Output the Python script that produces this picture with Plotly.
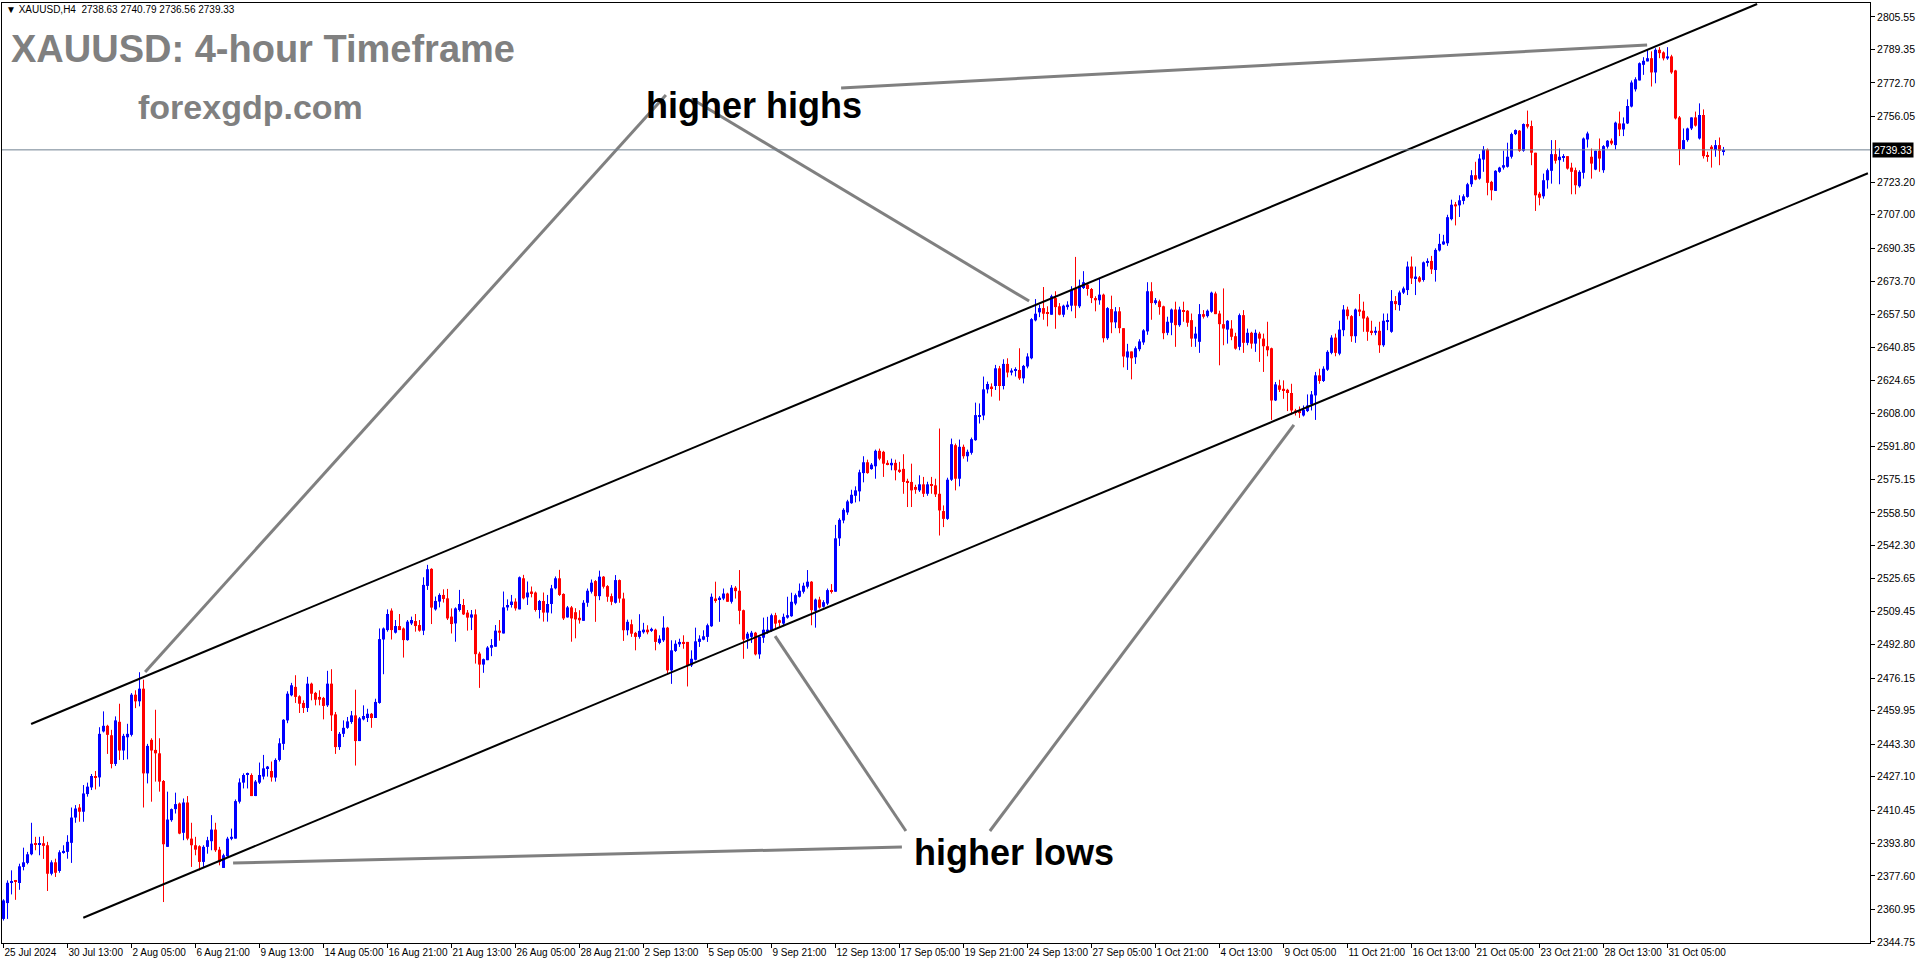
import plotly.graph_objects as go

# XAUUSD H4 bars, index 0 = 25 Jul 2024 21:00
opens = [
    2356.2, 2364.1, 2374.2, 2375.4, 2374.1, 2382.1, 2384.1, 2388.4, 2393.9, 2393.1,
    2393.9, 2392.9, 2378.7, 2384.4, 2380.1, 2389.4, 2389.6, 2394.1, 2406.7, 2411.7,
    2409.6, 2418.4, 2421.7, 2427.1, 2426.7, 2449.6, 2452.4, 2447.7, 2433.4, 2454.4,
    2440.1, 2446.7, 2447.9, 2467.9, 2464.6, 2470.9, 2428.7, 2445.4, 2440.4, 2438.7,
    2424.9, 2392.1, 2405.4, 2410.9, 2413.7, 2399.1, 2414.2, 2396.2, 2392.9, 2392.4,
    2384.6, 2392.1, 2394.9, 2400.7, 2390.7, 2381.6, 2387.4, 2396.1, 2396.2, 2414.6,
    2424.1, 2427.9, 2427.9, 2417.4, 2424.1, 2427.1, 2431.2, 2429.9, 2426.6, 2435.4,
    2443.4, 2455.1, 2467.6, 2471.8, 2467.1, 2463.8, 2461.3, 2473.4, 2468.8, 2466.8,
    2466.3, 2462.6, 2473.4, 2458.1, 2441.8, 2448.4, 2451.4, 2454.3, 2457.6, 2444.8,
    2455.6, 2456.3, 2458.4, 2456.3, 2463.8, 2495.4, 2500.1, 2509.8, 2498.8, 2502.1,
    2500.9, 2495.1, 2503.4, 2504.6, 2502.6, 2499.8, 2522.1, 2530.6, 2510.4, 2514.3,
    2517.6, 2515.9, 2506.8, 2503.4, 2510.1, 2512.6, 2508.8, 2506.3, 2507.9, 2488.4,
    2482.9, 2485.1, 2491.3, 2491.8, 2499.8, 2498.4, 2511.4, 2512.6, 2514.3, 2510.4,
    2525.9, 2516.4, 2519.3, 2518.8, 2510.1, 2514.6, 2508.8, 2513.1, 2520.9, 2525.9,
    2518.1, 2506.4, 2511.4, 2509.0, 2506.2, 2504.7, 2513.7, 2519.2, 2524.5, 2517.0,
    2526.7, 2522.0, 2517.0, 2513.7, 2525.0, 2515.8, 2500.0, 2503.0, 2498.7, 2496.7,
    2499.0, 2500.3, 2499.7, 2500.3, 2493.7, 2495.0, 2501.3, 2480.0, 2489.7, 2493.0,
    2494.2, 2494.2, 2482.5, 2485.3, 2494.2, 2495.3, 2496.7, 2502.0, 2515.8, 2515.5,
    2515.8, 2518.3, 2514.2, 2521.2, 2519.7, 2510.0, 2495.8, 2496.7, 2498.8, 2488.0,
    2496.3, 2499.2, 2499.7, 2507.5, 2505.0, 2503.3, 2506.3, 2507.0, 2513.3, 2516.7,
    2519.2, 2521.7, 2524.2, 2509.7, 2515.3, 2511.7, 2513.3, 2520.0, 2519.2, 2545.8,
    2554.7, 2558.7, 2563.3, 2567.0, 2569.2, 2578.3, 2583.7, 2580.3, 2581.7, 2589.4,
    2588.9, 2583.4, 2582.2, 2583.4, 2580.0, 2580.4, 2574.4, 2573.9, 2571.4, 2569.7,
    2572.7, 2568.0, 2572.7, 2572.2, 2568.0, 2559.4, 2555.5, 2575.0, 2592.2, 2575.5,
    2591.4, 2586.7, 2588.4, 2594.7, 2606.7, 2607.0, 2620.0, 2621.4, 2621.7, 2630.5,
    2621.7, 2632.7, 2628.4, 2629.4, 2629.7, 2625.5, 2631.4, 2635.5, 2654.4, 2658.4,
    2660.5, 2658.4, 2657.2, 2665.5, 2661.4, 2657.2, 2661.0, 2661.7, 2670.0, 2661.4,
    2670.5, 2672.2, 2670.0, 2665.5, 2664.4, 2667.2, 2645.5, 2660.0, 2653.4, 2658.9,
    2650.5, 2635.9, 2638.9, 2636.0, 2640.0, 2643.4, 2648.9, 2668.9, 2663.0, 2663.9,
    2661.4, 2648.2, 2653.2, 2659.8, 2652.0, 2659.2, 2659.2, 2654.5, 2645.3, 2643.7,
    2657.5, 2656.5, 2658.7, 2667.8, 2657.8, 2652.5, 2649.8, 2650.3, 2646.5, 2641.2,
    2657.0, 2643.2, 2648.2, 2642.8, 2647.8, 2645.3, 2641.5, 2640.5, 2614.5, 2622.0,
    2620.3, 2619.8, 2618.2, 2609.5, 2609.2, 2607.0, 2609.2, 2612.5, 2617.0, 2627.0,
    2624.2, 2629.8, 2638.2, 2645.8, 2637.8, 2649.5, 2659.8, 2656.5, 2646.5, 2659.8,
    2659.2, 2655.8, 2649.2, 2648.2, 2649.2, 2642.0, 2653.7, 2648.7, 2664.0, 2662.0,
    2668.2, 2669.5, 2681.2, 2675.3, 2675.8, 2674.5, 2683.3, 2684.0, 2679.5, 2689.2,
    2692.2, 2692.8, 2704.8, 2712.2, 2711.7, 2713.9, 2715.9, 2722.2, 2726.7, 2725.0,
    2734.5, 2739.5, 2723.4, 2718.9, 2728.4, 2730.5, 2730.9, 2735.9, 2747.2, 2748.9,
    2738.9, 2752.2, 2751.2, 2737.9, 2717.5, 2716.2, 2724.2, 2728.9, 2737.2, 2734.2,
    2735.5, 2736.2, 2730.5, 2729.2, 2721.2, 2727.9, 2744.5, 2735.9, 2729.5, 2738.9,
    2729.2, 2740.9, 2743.9, 2741.7, 2752.5, 2749.5, 2752.5, 2760.9, 2769.5, 2773.9,
    2781.7, 2783.4, 2785.0, 2777.9, 2789.2, 2787.9, 2784.9, 2785.9, 2778.9, 2755.5,
    2739.7, 2744.2, 2750.0, 2755.5, 2745.0, 2756.7, 2736.7, 2740.9, 2739.2, 2741.7,
    2738.63,
]
highs = [
    2366.0, 2375.4, 2380.4, 2375.6, 2383.7, 2391.7, 2389.6, 2404.1, 2397.1, 2397.1,
    2397.4, 2394.6, 2385.4, 2386.2, 2390.4, 2392.9, 2397.9, 2411.7, 2412.9, 2413.4,
    2422.9, 2424.1, 2428.4, 2429.9, 2451.7, 2459.6, 2452.9, 2450.4, 2457.1, 2463.4,
    2448.4, 2453.4, 2468.7, 2470.1, 2479.1, 2475.4, 2443.4, 2446.2, 2460.4, 2446.2,
    2425.4, 2419.6, 2411.2, 2419.1, 2414.2, 2416.2, 2417.4, 2404.1, 2397.1, 2392.9,
    2392.9, 2397.1, 2407.9, 2404.1, 2392.1, 2388.7, 2397.1, 2401.2, 2415.7, 2426.2,
    2428.7, 2429.1, 2428.7, 2425.4, 2434.1, 2437.9, 2432.4, 2434.6, 2436.2, 2446.2,
    2455.7, 2469.6, 2473.8, 2477.6, 2467.6, 2465.1, 2476.8, 2473.9, 2469.3, 2470.1,
    2466.8, 2479.8, 2480.6, 2459.3, 2449.3, 2455.1, 2456.8, 2459.8, 2470.4, 2456.8,
    2462.6, 2460.9, 2458.8, 2465.9, 2500.9, 2501.4, 2510.4, 2510.9, 2505.1, 2508.1,
    2501.4, 2505.1, 2506.8, 2508.1, 2505.1, 2526.4, 2532.6, 2530.9, 2516.8, 2518.4,
    2520.4, 2520.6, 2510.9, 2511.4, 2520.1, 2515.6, 2510.1, 2510.1, 2510.4, 2489.3,
    2485.9, 2492.1, 2495.6, 2502.6, 2505.1, 2519.3, 2515.4, 2517.6, 2515.9, 2526.8,
    2527.6, 2524.3, 2521.8, 2519.3, 2515.1, 2518.8, 2517.6, 2522.6, 2526.8, 2530.1,
    2518.4, 2512.1, 2512.1, 2511.0, 2510.0, 2515.0, 2520.8, 2525.3, 2525.0, 2529.7,
    2527.0, 2522.5, 2518.3, 2527.5, 2525.3, 2518.7, 2505.3, 2505.3, 2499.2, 2508.0,
    2503.7, 2502.5, 2501.3, 2500.8, 2497.5, 2507.0, 2501.7, 2495.0, 2495.0, 2495.8,
    2497.5, 2494.2, 2490.0, 2501.3, 2497.5, 2500.0, 2503.3, 2518.3, 2524.2, 2517.0,
    2520.8, 2518.7, 2522.5, 2522.0, 2530.0, 2510.3, 2499.2, 2499.7, 2499.2, 2497.0,
    2506.3, 2506.7, 2508.3, 2508.7, 2505.3, 2508.3, 2516.7, 2518.7, 2518.3, 2523.3,
    2523.7, 2530.0, 2524.5, 2515.8, 2516.7, 2515.0, 2520.8, 2523.0, 2552.5, 2555.8,
    2560.8, 2565.0, 2570.0, 2571.7, 2580.0, 2586.7, 2585.0, 2583.3, 2590.0, 2590.5,
    2589.4, 2584.7, 2585.5, 2585.0, 2583.9, 2587.7, 2575.5, 2583.0, 2572.5, 2577.2,
    2576.4, 2574.0, 2576.4, 2575.5, 2600.5, 2562.2, 2576.0, 2595.5, 2593.0, 2595.0,
    2592.5, 2590.0, 2596.0, 2613.4, 2613.0, 2626.4, 2623.9, 2623.0, 2632.2, 2631.7,
    2635.0, 2635.5, 2630.5, 2631.0, 2640.5, 2632.2, 2638.0, 2655.5, 2665.0, 2662.2,
    2671.0, 2661.4, 2667.2, 2668.9, 2663.0, 2662.2, 2663.9, 2671.4, 2686.0, 2674.7,
    2678.9, 2673.0, 2670.5, 2666.4, 2675.0, 2667.7, 2661.0, 2666.7, 2661.0, 2661.0,
    2650.5, 2642.7, 2638.9, 2641.4, 2645.0, 2650.0, 2673.4, 2673.4, 2665.5, 2664.7,
    2661.7, 2656.2, 2660.3, 2663.7, 2661.2, 2663.7, 2659.5, 2657.8, 2651.2, 2662.5,
    2659.5, 2659.8, 2668.7, 2668.7, 2659.2, 2670.3, 2654.5, 2654.5, 2648.2, 2657.8,
    2659.5, 2650.3, 2648.7, 2649.8, 2648.7, 2647.8, 2653.7, 2640.8, 2623.7, 2624.8,
    2624.5, 2620.3, 2622.8, 2610.3, 2611.5, 2612.0, 2617.5, 2619.2, 2628.7, 2630.3,
    2631.5, 2639.5, 2647.0, 2647.8, 2654.2, 2662.0, 2661.2, 2657.0, 2660.3, 2667.5,
    2663.7, 2656.5, 2654.2, 2651.2, 2653.7, 2657.8, 2657.8, 2669.5, 2666.5, 2669.2,
    2671.2, 2683.7, 2686.2, 2681.2, 2676.5, 2683.7, 2685.3, 2686.5, 2690.3, 2697.5,
    2697.0, 2707.0, 2714.5, 2713.4, 2716.7, 2717.2, 2722.9, 2729.2, 2733.4, 2737.2,
    2741.2, 2740.0, 2723.9, 2729.2, 2730.9, 2738.9, 2742.9, 2747.9, 2749.5, 2749.2,
    2752.5, 2758.9, 2753.9, 2737.9, 2718.4, 2727.5, 2730.0, 2744.2, 2744.2, 2740.0,
    2737.2, 2736.2, 2732.9, 2730.5, 2729.2, 2745.5, 2748.4, 2740.0, 2738.9, 2745.0,
    2741.7, 2744.2, 2745.0, 2753.4, 2758.4, 2755.5, 2764.5, 2773.9, 2775.5, 2782.9,
    2785.5, 2789.2, 2788.4, 2790.0, 2790.5, 2788.4, 2790.5, 2786.7, 2779.2, 2756.2,
    2750.0, 2750.4, 2755.5, 2758.4, 2762.5, 2759.5, 2738.4, 2741.7, 2744.2, 2745.5,
    2740.79,
]
lows = [
    2355.4, 2356.2, 2368.4, 2365.7, 2370.7, 2380.4, 2383.4, 2387.9, 2390.4, 2387.9,
    2386.1, 2370.1, 2377.9, 2377.1, 2379.2, 2388.7, 2386.2, 2384.1, 2404.1, 2404.6,
    2404.6, 2417.1, 2420.4, 2420.7, 2422.1, 2449.1, 2438.4, 2431.2, 2432.4, 2435.4,
    2435.4, 2435.7, 2447.1, 2461.2, 2462.1, 2411.7, 2423.7, 2414.6, 2424.6, 2419.6,
    2364.6, 2392.1, 2404.6, 2408.7, 2398.4, 2395.4, 2395.4, 2382.1, 2387.9, 2380.4,
    2382.1, 2388.7, 2390.4, 2389.6, 2382.9, 2381.6, 2387.1, 2395.4, 2396.2, 2413.7,
    2421.2, 2421.2, 2417.4, 2417.4, 2423.4, 2425.7, 2427.1, 2424.6, 2424.6, 2434.6,
    2440.4, 2453.7, 2467.1, 2463.8, 2458.8, 2458.8, 2459.3, 2465.1, 2462.6, 2462.6,
    2455.6, 2461.8, 2449.8, 2438.4, 2440.4, 2446.8, 2450.9, 2453.4, 2432.6, 2444.8,
    2455.1, 2454.3, 2451.4, 2456.3, 2463.4, 2478.1, 2499.3, 2495.4, 2498.4, 2500.1,
    2486.4, 2494.8, 2502.6, 2499.3, 2499.3, 2497.6, 2520.1, 2503.1, 2509.8, 2511.4,
    2513.8, 2505.1, 2498.4, 2494.3, 2509.3, 2507.6, 2499.8, 2500.1, 2483.4, 2471.3,
    2478.8, 2485.1, 2487.1, 2491.8, 2494.8, 2498.4, 2509.8, 2511.3, 2509.8, 2510.4,
    2515.4, 2512.6, 2516.4, 2509.3, 2505.9, 2504.3, 2504.3, 2508.4, 2520.4, 2517.1,
    2505.1, 2506.3, 2494.3, 2496.0, 2503.3, 2504.7, 2511.7, 2518.3, 2504.2, 2515.0,
    2520.8, 2514.2, 2512.5, 2513.3, 2513.7, 2494.7, 2497.5, 2496.7, 2490.0, 2495.8,
    2498.3, 2498.0, 2499.2, 2490.0, 2493.0, 2494.2, 2478.0, 2473.3, 2489.2, 2491.7,
    2490.8, 2472.0, 2481.7, 2485.0, 2491.7, 2495.0, 2494.2, 2501.7, 2513.7, 2504.2,
    2515.0, 2514.2, 2513.3, 2515.8, 2503.0, 2485.8, 2490.8, 2493.7, 2487.5, 2485.8,
    2493.7, 2498.3, 2499.2, 2500.8, 2501.7, 2502.0, 2505.8, 2506.7, 2512.5, 2516.3,
    2518.3, 2520.8, 2502.5, 2501.3, 2510.8, 2511.3, 2512.5, 2518.3, 2519.2, 2542.0,
    2553.3, 2557.5, 2563.0, 2563.7, 2564.2, 2573.7, 2578.0, 2580.0, 2575.5, 2584.7,
    2576.4, 2582.2, 2579.7, 2574.7, 2578.4, 2568.0, 2561.4, 2561.4, 2568.0, 2568.9,
    2566.4, 2567.0, 2568.0, 2566.4, 2547.2, 2551.4, 2555.0, 2574.4, 2569.7, 2571.7,
    2585.5, 2584.0, 2587.5, 2594.4, 2603.0, 2604.7, 2618.0, 2616.4, 2619.7, 2614.4,
    2620.0, 2626.0, 2627.0, 2626.4, 2624.7, 2623.0, 2630.5, 2635.0, 2653.9, 2656.0,
    2654.7, 2651.4, 2657.2, 2650.2, 2656.9, 2656.0, 2659.7, 2658.9, 2655.5, 2660.5,
    2670.0, 2666.7, 2663.0, 2658.9, 2662.2, 2643.4, 2644.7, 2648.0, 2650.5, 2648.0,
    2631.0, 2629.7, 2625.0, 2632.7, 2639.0, 2642.2, 2647.2, 2654.7, 2662.2, 2657.2,
    2645.0, 2647.0, 2647.0, 2641.2, 2651.2, 2653.7, 2651.2, 2641.2, 2641.2, 2638.2,
    2655.3, 2655.8, 2658.2, 2657.5, 2632.0, 2642.0, 2642.8, 2644.5, 2639.8, 2639.5,
    2638.2, 2642.0, 2640.3, 2638.7, 2633.7, 2628.7, 2636.5, 2604.8, 2614.2, 2618.7,
    2615.3, 2609.2, 2607.5, 2607.0, 2605.8, 2606.5, 2608.7, 2609.5, 2604.8, 2622.8,
    2623.7, 2629.2, 2637.5, 2636.5, 2637.0, 2646.5, 2654.8, 2643.7, 2643.2, 2656.5,
    2648.7, 2644.2, 2647.0, 2647.0, 2638.2, 2641.2, 2649.5, 2648.2, 2659.5, 2659.2,
    2667.5, 2667.0, 2672.5, 2667.0, 2673.2, 2673.7, 2681.2, 2677.5, 2673.7, 2688.7,
    2692.0, 2691.5, 2704.2, 2701.7, 2705.9, 2712.2, 2715.5, 2720.9, 2724.2, 2724.5,
    2728.4, 2716.7, 2714.2, 2718.9, 2727.9, 2729.5, 2730.5, 2735.0, 2746.7, 2738.4,
    2738.4, 2750.0, 2731.7, 2708.9, 2711.7, 2715.0, 2720.0, 2722.5, 2732.5, 2722.2,
    2733.4, 2729.5, 2717.2, 2717.2, 2720.5, 2725.0, 2740.5, 2725.0, 2729.2, 2728.4,
    2727.9, 2740.0, 2741.7, 2739.5, 2746.2, 2746.2, 2752.2, 2760.5, 2768.4, 2773.9,
    2776.7, 2783.4, 2770.9, 2772.5, 2785.0, 2783.9, 2784.2, 2777.2, 2754.5, 2731.7,
    2739.7, 2743.4, 2749.2, 2750.9, 2744.5, 2735.0, 2733.4, 2730.5, 2735.9, 2731.7,
    2736.56,
]
closes = [
    2365.4, 2374.2, 2375.1, 2374.6, 2382.4, 2384.4, 2388.4, 2393.7, 2393.1, 2393.9,
    2392.6, 2378.7, 2384.4, 2379.2, 2389.4, 2390.1, 2394.6, 2406.7, 2411.2, 2409.6,
    2418.7, 2422.1, 2427.4, 2426.6, 2448.4, 2452.4, 2447.9, 2433.4, 2455.1, 2440.1,
    2447.4, 2448.4, 2467.9, 2464.6, 2470.9, 2428.7, 2442.4, 2440.1, 2438.7, 2424.6,
    2393.4, 2405.7, 2410.9, 2413.4, 2398.7, 2414.2, 2396.2, 2392.9, 2390.7, 2384.6,
    2392.1, 2395.4, 2400.7, 2390.4, 2384.6, 2387.9, 2396.2, 2397.1, 2414.9, 2424.2,
    2427.9, 2428.4, 2417.4, 2424.6, 2427.9, 2431.2, 2432.1, 2426.7, 2435.4, 2443.7,
    2455.4, 2468.4, 2472.6, 2466.8, 2463.4, 2461.3, 2473.4, 2468.4, 2465.4, 2465.4,
    2462.3, 2473.4, 2457.6, 2441.8, 2448.4, 2451.4, 2454.6, 2457.6, 2444.8, 2456.1,
    2457.3, 2458.4, 2456.3, 2464.3, 2495.6, 2500.9, 2508.1, 2500.1, 2502.1, 2500.1,
    2495.1, 2504.3, 2505.1, 2502.1, 2499.8, 2522.6, 2530.4, 2511.3, 2514.6, 2517.6,
    2515.6, 2505.9, 2503.1, 2510.9, 2513.1, 2507.9, 2506.3, 2507.9, 2488.1, 2482.9,
    2485.6, 2491.4, 2492.6, 2499.8, 2498.8, 2511.4, 2512.6, 2514.3, 2510.9, 2526.4,
    2515.9, 2518.8, 2518.1, 2510.1, 2514.6, 2508.8, 2513.1, 2520.9, 2525.9, 2517.6,
    2505.9, 2511.4, 2505.9, 2505.4, 2505.0, 2513.7, 2519.7, 2523.7, 2517.0, 2526.7,
    2521.7, 2516.7, 2514.2, 2525.0, 2515.8, 2500.0, 2504.2, 2498.3, 2496.7, 2499.7,
    2500.3, 2499.0, 2500.7, 2494.2, 2495.8, 2501.3, 2480.0, 2490.0, 2493.3, 2494.2,
    2493.3, 2482.5, 2485.8, 2494.5, 2495.8, 2497.0, 2502.5, 2516.7, 2515.0, 2516.2,
    2518.3, 2514.2, 2521.2, 2519.5, 2509.7, 2495.3, 2498.3, 2498.8, 2488.0, 2496.7,
    2500.3, 2500.3, 2507.5, 2503.3, 2503.7, 2506.7, 2507.5, 2514.2, 2517.5, 2519.7,
    2522.2, 2524.2, 2510.0, 2515.3, 2511.3, 2514.0, 2520.0, 2519.2, 2545.8, 2555.0,
    2560.0, 2564.2, 2567.5, 2569.7, 2578.7, 2583.7, 2578.3, 2582.5, 2589.4, 2585.5,
    2583.0, 2582.7, 2583.4, 2579.7, 2578.9, 2573.9, 2573.5, 2569.7, 2570.0, 2572.7,
    2568.0, 2572.7, 2571.9, 2567.7, 2559.7, 2555.5, 2575.0, 2592.7, 2575.5, 2591.4,
    2586.7, 2588.9, 2595.2, 2607.2, 2607.2, 2620.0, 2622.7, 2620.5, 2630.5, 2621.7,
    2632.7, 2628.4, 2629.4, 2629.7, 2625.5, 2631.7, 2636.4, 2655.0, 2657.7, 2660.5,
    2657.7, 2657.7, 2666.4, 2661.0, 2657.2, 2661.7, 2662.2, 2669.7, 2661.7, 2671.7,
    2673.4, 2670.0, 2665.5, 2664.4, 2667.2, 2645.5, 2660.5, 2653.4, 2658.9, 2650.5,
    2636.4, 2638.9, 2635.5, 2640.5, 2643.9, 2649.4, 2668.9, 2663.0, 2664.4, 2661.0,
    2648.0, 2653.7, 2659.8, 2652.0, 2659.8, 2658.7, 2653.2, 2645.3, 2647.8, 2657.5,
    2656.2, 2659.2, 2668.2, 2657.5, 2652.5, 2650.3, 2654.2, 2646.2, 2640.3, 2657.0,
    2643.2, 2648.2, 2642.8, 2648.2, 2645.3, 2641.5, 2639.5, 2614.5, 2622.5, 2619.8,
    2619.5, 2618.2, 2609.5, 2608.7, 2608.2, 2609.8, 2612.0, 2617.5, 2627.0, 2624.2,
    2630.3, 2638.7, 2645.8, 2638.2, 2649.8, 2659.8, 2656.5, 2646.5, 2659.8, 2658.7,
    2655.3, 2648.7, 2648.3, 2649.2, 2642.0, 2654.2, 2654.5, 2664.0, 2662.5, 2668.3,
    2670.3, 2681.2, 2675.3, 2676.2, 2673.7, 2683.3, 2684.0, 2679.8, 2689.5, 2692.5,
    2693.7, 2705.8, 2712.0, 2711.2, 2714.2, 2716.2, 2722.2, 2726.7, 2724.5, 2735.0,
    2739.5, 2722.9, 2719.2, 2728.9, 2730.5, 2731.7, 2735.9, 2747.2, 2749.2, 2738.9,
    2752.2, 2750.9, 2737.9, 2716.7, 2715.5, 2724.2, 2729.2, 2737.2, 2733.9, 2735.9,
    2736.2, 2730.0, 2728.4, 2721.7, 2728.4, 2745.0, 2747.5, 2732.5, 2738.9, 2735.0,
    2741.2, 2743.9, 2742.5, 2752.9, 2749.5, 2752.5, 2761.2, 2772.9, 2774.5, 2782.5,
    2783.7, 2785.0, 2777.9, 2789.2, 2787.5, 2784.9, 2785.9, 2777.9, 2755.0, 2739.7,
    2744.2, 2750.0, 2755.5, 2751.4, 2756.7, 2736.2, 2735.9, 2740.0, 2741.7, 2738.9,
    2739.33,
]

# time axis: a label every 16 bars
time_labels = [
    "25 Jul 2024", "30 Jul 13:00", "2 Aug 05:00", "6 Aug 21:00", "9 Aug 13:00",
    "14 Aug 05:00", "16 Aug 21:00", "21 Aug 13:00", "26 Aug 05:00", "28 Aug 21:00",
    "2 Sep 13:00", "5 Sep 05:00", "9 Sep 21:00", "12 Sep 13:00", "17 Sep 05:00",
    "19 Sep 21:00", "24 Sep 13:00", "27 Sep 05:00", "1 Oct 21:00", "4 Oct 13:00",
    "9 Oct 05:00", "11 Oct 21:00", "16 Oct 13:00", "21 Oct 05:00", "23 Oct 21:00",
    "28 Oct 13:00", "31 Oct 05:00",
]
label_step = 16

price_ticks = [
    2805.55, 2789.35, 2772.70, 2756.05, 2723.20, 2707.00, 2690.35, 2673.70,
    2657.50, 2640.85, 2624.65, 2608.00, 2591.80, 2575.15, 2558.50, 2542.30,
    2525.65, 2509.45, 2492.80, 2476.15, 2459.95, 2443.30, 2427.10, 2410.45,
    2393.80, 2377.60, 2360.95, 2344.75,
]
bid_price = 2739.33

# trend channel (bar index, price)
upper_channel = ([6.9, 438.4], [2453.3, 2812.0])
lower_channel = ([19.95, 466.1], [2356.8, 2727.7])

# pointer lines from the captions to the swing points
highs_pointers = [
    ((209.4, 2770.2), (410.9, 2791.6)),
    ((165.6, 2766.7), (35.4, 2479.2)),
    ((172.0, 2764.8), (256.4, 2664.0)),
]
lows_pointers = [
    ((224.6, 2392.0), (57.4, 2384.0)),
    ((225.6, 2400.0), (192.9, 2497.1)),
    ((246.6, 2400.0), (322.6, 2602.3)),
]

BULL = "#0000FF"
BEAR = "#FF0000"
FONT = "Liberation Sans"

n = len(closes)
bars = list(range(n))
up = [closes[i] >= opens[i] for i in range(n)]

fig = go.Figure()

# wicks
for flag, col in ((True, BULL), (False, BEAR)):
    wx, wy = [], []
    for i in bars:
        if up[i] == flag:
            wx += [i, i, None]
            wy += [lows[i], highs[i], None]
    fig.add_trace(go.Scatter(x=wx, y=wy, mode="lines", line=dict(color=col, width=1),
                             hoverinfo="skip"))

# bodies
body_base = [min(opens[i], closes[i]) for i in bars]
body_size = [max(abs(closes[i] - opens[i]), 0.5) for i in bars]
fig.add_trace(go.Bar(x=bars, y=body_size, base=body_base, width=0.75,
                     marker=dict(color=[BULL if u else BEAR for u in up], line=dict(width=0)),
                     hoverinfo="skip"))

# channel lines
for xs, ys in (upper_channel, lower_channel):
    fig.add_trace(go.Scatter(x=xs, y=ys, mode="lines", line=dict(color="black", width=2),
                             hoverinfo="skip"))

shapes = []
for (x0, y0), (x1, y1) in highs_pointers + lows_pointers:
    shapes.append(dict(type="line", xref="x", yref="y", x0=x0, y0=y0, x1=x1, y1=y1,
                       line=dict(color="#808080", width=3)))
# bid line
shapes.append(dict(type="line", xref="paper", yref="y", x0=0, x1=1, y0=bid_price, y1=bid_price,
                   line=dict(color="#6f8090", width=1)))

annotations = [
    dict(text="\u25bc XAUUSD,H4  2738.63 2740.79 2736.56 2739.33", xref="paper", yref="paper",
         x=0.001, y=0.993, xanchor="left", yanchor="middle", showarrow=False,
         font=dict(family=FONT, size=10, color="black")),
    dict(text="XAUUSD: 4-hour Timeframe", xref="paper", yref="paper",
         x=0.004, y=0.951, xanchor="left", yanchor="middle", showarrow=False,
         font=dict(family=FONT, size=38, color="#808080", weight="bold")),
    dict(text="forexgdp.com", xref="paper", yref="paper",
         x=0.072, y=0.889, xanchor="left", yanchor="middle", showarrow=False,
         font=dict(family=FONT, size=34, color="#808080", weight="bold")),
    dict(text="higher highs", xref="x", yref="y", x=187.6, y=2761.2,
         xanchor="center", yanchor="middle", showarrow=False,
         font=dict(family=FONT, size=36, color="black", weight="bold")),
    dict(text="higher lows", xref="x", yref="y", x=252.6, y=2389.5,
         xanchor="center", yanchor="middle", showarrow=False,
         font=dict(family=FONT, size=36, color="black", weight="bold")),
    dict(text="%.2f" % bid_price, xref="paper", yref="y", x=1, y=bid_price,
         xanchor="left", yanchor="middle", xshift=2, showarrow=False, bgcolor="black",
         borderpad=1, font=dict(family=FONT, size=10.5, color="white")),
]

fig.update_layout(
    width=1916, height=964,
    margin=dict(l=2, r=46, t=3, b=21, autoexpand=False),
    paper_bgcolor="white", plot_bgcolor="white",
    showlegend=False, shapes=shapes, annotations=annotations,
    xaxis=dict(range=[-0.375, 466.625],
               tickvals=[k * label_step for k in range(len(time_labels))],
               ticktext=time_labels, tickangle=0, automargin=False,
               ticks="outside", ticklen=4, tickcolor="black",
               ticklabelposition="outside right",
               showline=True, linecolor="black", linewidth=1, mirror=True,
               showgrid=False, zeroline=False,
               tickfont=dict(family=FONT, size=10, color="black")),
    yaxis=dict(range=[2344.2, 2812.5], side="right", automargin=False,
               tickvals=price_ticks, ticktext=["%.2f" % v for v in price_ticks],
               ticks="outside", ticklen=4, tickcolor="black",
               showline=True, linecolor="black", linewidth=1, mirror=True,
               showgrid=False, zeroline=False,
               tickfont=dict(family=FONT, size=10.5, color="black")),
)

fig.write_html("out.html")
